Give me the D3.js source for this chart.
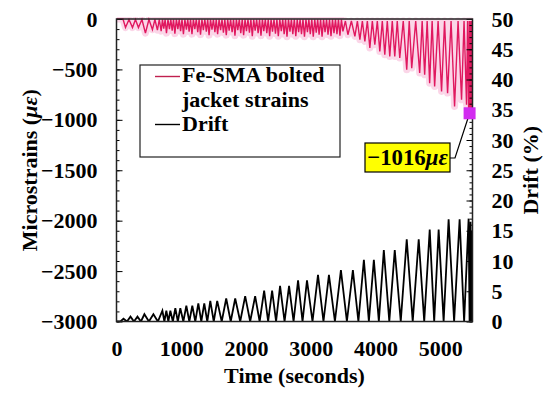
<!DOCTYPE html>
<html>
<head>
<meta charset="utf-8">
<script src="https://cdn.jsdelivr.net/npm/d3@7"></script>
<style>
  body { margin: 0; background: #fff; }
  svg text { font-family: "Liberation Serif", "Times New Roman", serif; font-weight: bold; }
</style>
</head>
<body>
<div id="chart"></div>
<script>
// Drift peaks (seconds, %), valleys sit at 0 between them
const driftPeakTime = [108, 216, 324, 431, 570, 709, 770, 832, 909, 986, 1079, 1171, 1264, 1356, 1449, 1556,
  1695, 1834, 1988, 2142, 2281, 2404, 2527, 2666, 2805, 2943, 3113, 3282, 3467, 3652, 3822, 3976,
  4130, 4299, 4484, 4669, 4839, 4977, 5131, 5301, 5440, 5470, 5495];
const driftPeakValue = [0.45, 0.8, 0.8, 1.2, 1.2, 1.8, 1.8, 1.8, 2.2, 2.2, 2.6, 2.6, 3.0, 3.0, 3.4, 3.4,
  3.8, 3.8, 4.2, 4.2, 5.1, 5.1, 5.9, 5.9, 6.8, 6.8, 7.7, 7.7, 8.5, 8.5, 10.2, 10.2,
  11.8, 11.8, 13.6, 13.6, 15.2, 15.2, 16.9, 16.9, 17.0, 16.5, 15.0];

// Strain troughs (seconds, microstrain); crests sit near zero between them
const strainTroughTime = [139, 247, 339, 447, 555, 632,
  690, 730, 772, 818, 860, 902, 948, 990, 1034, 1080, 1122, 1166, 1210, 1255, 1298, 1342, 1388, 1430,
  1475, 1520, 1562, 1608, 1652, 1696, 1740, 1786, 1830, 1874, 1920, 1964, 2008, 2054, 2098, 2142,
  2188, 2232, 2276, 2322, 2366, 2410, 2456, 2500, 2546, 2590, 2634, 2680, 2724, 2770, 2814, 2858,
  2904, 2950, 2994, 3040, 3086, 3130, 3176, 3222, 3268, 3314, 3360, 3406, 3452,
  3498, 3575, 3683, 3760, 3837, 3914, 3991, 4068, 4145, 4222, 4299, 4376, 4484, 4561, 4684, 4761,
  4838, 4915, 5022, 5115, 5223, 5331, 5408, 5440, 5463, 5485];
const strainTroughValue = [-85, -85, -85, -140, -105, -110,
  -120, -95, -140, -100, -115, -145, -100, -120, -150, -105, -125, -150, -100, -130, -155, -110, -125, -160,
  -105, -130, -150, -110, -135, -160, -115, -130, -165, -110, -140, -160, -120, -135, -170, -115,
  -140, -165, -120, -140, -170, -125, -145, -170, -120, -150, -175, -125, -150, -170, -130, -150,
  -175, -130, -150, -175, -135, -155, -175, -130, -155, -170, -140, -150, -165,
  -122, -156, -172, -205, -222, -288, -255, -321, -354, -371, -371, -387, -503, -487, -536, -553,
  -636, -669, -718, -735, -867, -801, -851, -890, -920, -930];
const strainCrestEarly = -5;   // before ~3500 s
const strainCrestLate = -20;   // after ~3500 s

// Highlighted point
const markerTime = 5455;
const markerStrain = -935;
const markerLabel = "−1016";

const timeTicks = [0, 1000, 2000, 3000, 4000, 5000];
const strainTicks = [-3000, -2500, -2000, -1500, -1000, -500, 0];
const driftTicks = [0, 5, 10, 15, 20, 25, 30, 35, 40, 45, 50];

const width = 550, height = 398;
const margin = { left: 116.5, right: 77.5, top: 19, bottom: 76.5 };

const x = d3.scaleLinear().domain([0, 5500]).range([margin.left, width - margin.right]);
const yS = d3.scaleLinear().domain([-3000, 0]).range([height - margin.bottom, margin.top]);
const yD = d3.scaleLinear().domain([0, 50]).range([height - margin.bottom, margin.top]);

const svg = d3.select("#chart").append("svg")
  .attr("width", width).attr("height", height)
  .attr("viewBox", [0, 0, width, height]);

// Build vertices
const driftPts = [[0, 0], [60, 0]];
driftPeakTime.forEach((t, i) => {
  driftPts.push([t, driftPeakValue[i]]);
  const next = driftPeakTime[i + 1];
  if (next !== undefined) driftPts.push([(t + next) / 2, 0]);
});
driftPts.push([5500, 2]);

const strainPts = [[0, 0], [100, 0]];
strainTroughTime.forEach((t, i) => {
  strainPts.push([t, strainTroughValue[i]]);
  const next = strainTroughTime[i + 1];
  if (next !== undefined) strainPts.push([(t + next) / 2, t < 3480 ? strainCrestEarly : strainCrestLate]);
});
strainPts.push([5495, strainCrestLate], [5500, -880]);

svg.append("clipPath").attr("id", "clip").append("rect")
  .attr("x", margin.left).attr("y", margin.top - 2)
  .attr("width", x(5500) - margin.left).attr("height", yS(-3000) - margin.top + 2);

const plot = svg.append("g").attr("clip-path", "url(#clip)");

const strainLine = d3.line().x(d => x(d[0])).y(d => yS(d[1]));
const driftLine = d3.line().x(d => x(d[0])).y(d => yD(d[1]));

// soft pink halo under the strain curve
plot.append("path").datum(strainPts)
  .attr("d", strainLine).attr("fill", "none")
  .attr("stroke", "#fbd6e8").attr("stroke-width", 7).attr("stroke-linejoin", "round");
plot.append("path").datum(strainPts)
  .attr("d", strainLine).attr("fill", "none")
  .attr("stroke", "#e0185f").attr("stroke-width", 1.4);
plot.append("path").datum(driftPts)
  .attr("d", driftLine).attr("fill", "none")
  .attr("stroke", "#000").attr("stroke-width", 1.8);

const fmtMinus = d => d < 0 ? "−" + Math.abs(d) : String(d);

// Axes (ticks point inward)
svg.append("g")
  .attr("transform", `translate(${margin.left},0)`)
  .call(d3.axisLeft(yS).tickValues(d3.range(-3000, 1, 100)).tickSize(-3).tickFormat(""))
  .call(g => g.select(".domain").remove());
svg.append("g")
  .attr("transform", `translate(${margin.left},0)`)
  .call(d3.axisLeft(yS).tickValues(strainTicks).tickSize(-6).tickPadding(19).tickFormat(fmtMinus))
  .call(g => g.select(".domain").remove())
  .call(g => g.selectAll("text").attr("font-size", 22).attr("fill", "#000"));

svg.append("g")
  .attr("transform", `translate(${x(5500)},0)`)
  .call(d3.axisRight(yD).tickValues(d3.range(0, 51, 1)).tickSize(-3).tickFormat(""))
  .call(g => g.select(".domain").remove());
svg.append("g")
  .attr("transform", `translate(${x(5500)},0)`)
  .call(d3.axisRight(yD).tickValues(driftTicks).tickSize(-6).tickPadding(19).tickFormat(d3.format("d")))
  .call(g => g.select(".domain").remove())
  .call(g => g.selectAll("text").attr("font-size", 22).attr("fill", "#000"));

svg.append("g")
  .attr("transform", `translate(0,${yS(-3000)})`)
  .call(d3.axisBottom(x).tickValues(timeTicks).tickSize(0).tickPadding(19).tickFormat(d3.format("d")))
  .call(g => g.select(".domain").remove())
  .call(g => g.selectAll("text").attr("font-size", 22).attr("fill", "#000"));

// Frame
svg.append("rect")
  .attr("x", margin.left).attr("y", margin.top)
  .attr("width", x(5500) - margin.left).attr("height", yS(-3000) - margin.top)
  .attr("fill", "none").attr("stroke", "#222").attr("stroke-width", 1.5);

// Axis titles
svg.append("text")
  .attr("transform", `translate(37,${(margin.top + yS(-3000)) / 2}) rotate(-90)`)
  .attr("text-anchor", "middle").attr("font-size", 22)
  .call(t => {
    t.append("tspan").text("Microstrains (");
    t.append("tspan").attr("font-style", "italic").text("με");
    t.append("tspan").text(")");
  });
svg.append("text")
  .attr("transform", `translate(538,${(margin.top + yS(-3000)) / 2}) rotate(-90)`)
  .attr("text-anchor", "middle").attr("font-size", 22)
  .text("Drift (%)");
svg.append("text")
  .attr("x", (margin.left + x(5500)) / 2).attr("y", 383)
  .attr("text-anchor", "middle").attr("font-size", 22)
  .text("Time (seconds)");

// Legend
const legend = svg.append("g");
legend.append("rect")
  .attr("x", 140).attr("y", 65).attr("width", 200).attr("height", 92)
  .attr("fill", "#fff").attr("stroke", "#222").attr("stroke-width", 1.2);
legend.append("line").attr("x1", 155).attr("x2", 180).attr("y1", 76.5).attr("y2", 76.5)
  .attr("stroke", "#c0204f").attr("stroke-width", 1.4);
legend.append("text").attr("x", 182).attr("y", 82).attr("font-size", 22).text("Fe-SMA bolted");
legend.append("text").attr("x", 182).attr("y", 107).attr("font-size", 22).text("jacket strains");
legend.append("line").attr("x1", 155).attr("x2", 180).attr("y1", 124.5).attr("y2", 124.5)
  .attr("stroke", "#000").attr("stroke-width", 1.4);
legend.append("text").attr("x", 182).attr("y", 131).attr("font-size", 22).text("Drift");

// Annotation
const mx = x(markerTime), my = yS(markerStrain);
svg.append("polyline")
  .attr("points", `450,158 455,158 ${mx},${my}`)
  .attr("fill", "none").attr("stroke", "#000").attr("stroke-width", 1.2);
svg.append("rect")
  .attr("x", mx - 6).attr("y", my - 6).attr("width", 12).attr("height", 12)
  .attr("fill", "#d22cf0");
svg.append("rect")
  .attr("x", 365).attr("y", 143).attr("width", 85).attr("height", 29)
  .attr("fill", "#ffff00").attr("stroke", "#000").attr("stroke-width", 1.2);
svg.append("text")
  .attr("x", 407.5).attr("y", 165).attr("text-anchor", "middle").attr("font-size", 22.8)
  .call(t => {
    t.append("tspan").text(markerLabel);
    t.append("tspan").attr("font-style", "italic").text("με");
  });
</script>
</body>
</html>
